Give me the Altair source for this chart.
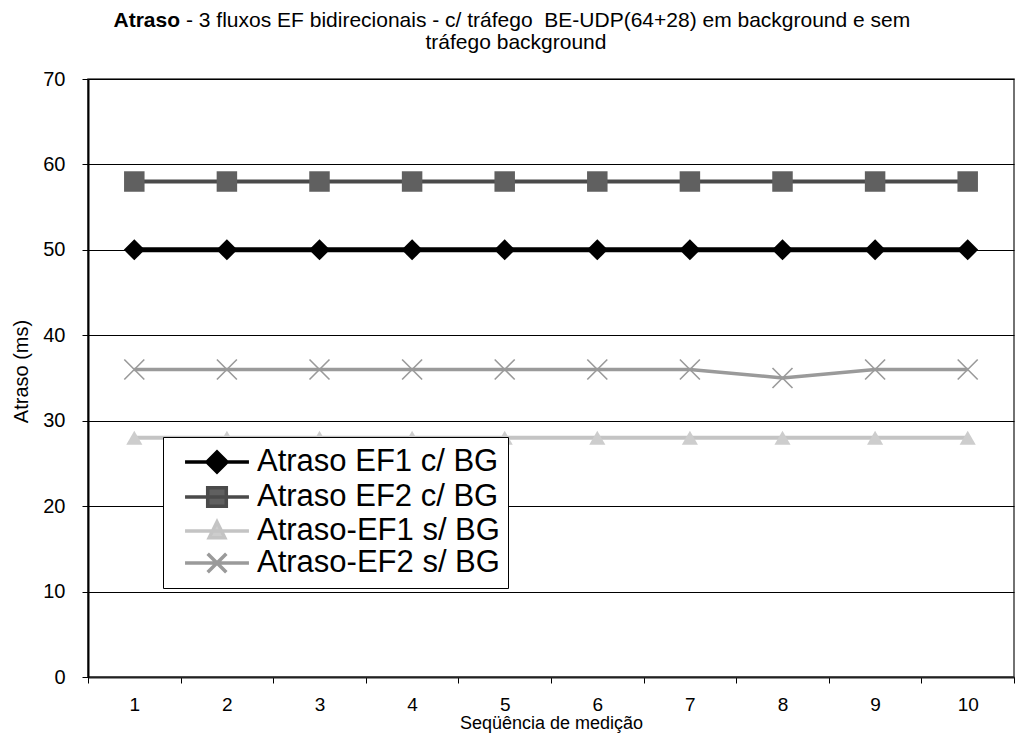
import altair as alt
import pandas as pd

seq = [1, 2, 3, 4, 5, 6, 7, 8, 9, 10]
ef1_cbg = [50, 50, 50, 50, 50, 50, 50, 50, 50, 50]
ef2_cbg = [58, 58, 58, 58, 58, 58, 58, 58, 58, 58]
ef1_sbg = [28, 28, 28, 28, 28, 28, 28, 28, 28, 28]
ef2_sbg = [36, 36, 36, 36, 36, 36, 36, 35, 36, 36]
series = ["Atraso EF1 c/ BG", "Atraso EF2 c/ BG", "Atraso-EF1 s/ BG", "Atraso-EF2 s/ BG"]
values = [ef1_cbg, ef2_cbg, ef1_sbg, ef2_sbg]

title_bold = "Atraso"
title_rest = "- 3 fluxos EF bidirecionais - c/ tráfego\u00a0 BE-UDP(64+28) em background e sem"
title_line2 = "tráfego background"

line_colors = ["#000000", "#4a4a4a", "#c4c4c4", "#9a9a9a"]
fill_colors = ["#000000", "#606060", "#cdcdcd", "#9a9a9a"]
line_widths = [5, 4, 4, 3.5]

rows = []
for s, vals in zip(series, values):
    for q, v in zip(seq, vals):
        rows.append({"seq": q, "atraso": v, "serie": s})
df = pd.DataFrame(rows)

FONT = "Liberation Sans"
W, H = 926, 598

x_enc = alt.X(
    "seq:O",
    scale=alt.Scale(type="band", paddingInner=0, paddingOuter=0),
    axis=alt.Axis(
        title="Seqüência de medição", tickBand="extent", labelAngle=0,
        labelFontSize=19, labelPadding=12, tickSize=6, tickColor="#000",
        domainColor="#222", domainWidth=2, grid=False,
        titleFontSize=18, titleFontWeight="normal", titleBaseline="alphabetic",
        titleY=51, labelColor="#000", titleColor="#000",
    ),
)
y_enc = alt.Y(
    "atraso:Q",
    scale=alt.Scale(domain=[0, 70], nice=False),
    axis=alt.Axis(
        title="Atraso (ms)", values=[0, 10, 20, 30, 40, 50, 60, 70],
        labelFontSize=20, labelPadding=17, tickSize=6, tickColor="#000",
        domainColor="#000", domainWidth=2, grid=True, gridColor="#000",
        gridWidth=1, titleFontSize=20, titleFontWeight="normal",
        titleX=-57, titleY=292, titleAngle=270, titleBaseline="bottom",
        titleAlign="center", labelColor="#000", titleColor="#000",
    ),
)

layers = []
for i, s in enumerate(series):
    base = alt.Chart(df).transform_filter(alt.datum.serie == s)
    layers.append(
        base.mark_line(color=line_colors[i], strokeWidth=line_widths[i]).encode(x=x_enc, y=y_enc)
    )

marker_defs = [
    dict(shape="diamond", filled=True, size=440, color=fill_colors[0], opacity=1),
    dict(shape="square", filled=True, size=420, color=fill_colors[1], opacity=1),
    dict(shape="triangle-up", filled=True, size=260, color=fill_colors[2], opacity=1),
    dict(shape="M-1,-1L1,1M-1,1L1,-1", filled=False, size=400, color=fill_colors[3],
         strokeWidth=1.6, opacity=1),
]
for i, s in enumerate(series):
    base = alt.Chart(df).transform_filter(alt.datum.serie == s)
    layers.append(base.mark_point(**marker_defs[i]).encode(x=x_enc, y=y_enc))

legend_paths = [
    "M-2.13,0H2.13M0,-0.67L0.67,0L0,0.67L-0.67,0Z",
    "M-2.13,0H2.13M-0.62,-0.62H0.62V0.62H-0.62Z",
    "M-2.13,0H2.13M0,-0.6L0.52,0.45H-0.52Z",
    "M-2.13,0H2.13M-0.62,-0.62L0.62,0.62M-0.62,0.62L0.62,-0.62",
]
leg = alt.Legend(
    title=None, orient="none", legendX=75, legendY=358, fillColor="#ffffff",
    strokeColor="#000000", padding=8, labelFontSize=31, labelFont=FONT,
    labelColor="#000", symbolSize=900, symbolStrokeWidth=3.5, symbolOffset=29,
    labelOffset=23, rowPadding=-2, labelLimit=500,
)
legend_layer = alt.Chart(df).mark_point(filled=True, clip=True, size=900, strokeWidth=3.5, opacity=1).encode(
    x=x_enc,
    y=alt.value(-500),
    shape=alt.Shape("serie:N", scale=alt.Scale(domain=series, range=legend_paths), legend=leg),
    fill=alt.Fill("serie:N", scale=alt.Scale(domain=series, range=fill_colors), legend=leg),
    stroke=alt.Stroke("serie:N", scale=alt.Scale(domain=series, range=line_colors), legend=leg),
)
layers.append(legend_layer)

t1 = alt.Chart(pd.DataFrame({"t": [title_bold]})).mark_text(
    font=FONT, fontSize=21, fontWeight="bold", align="right", baseline="alphabetic", color="#000"
).encode(x=alt.value(92), y=alt.value(-52), text="t:N")
t2 = alt.Chart(pd.DataFrame({"t": [title_rest]})).mark_text(
    font=FONT, fontSize=21, align="left", baseline="alphabetic", color="#000"
).encode(x=alt.value(98), y=alt.value(-52), text="t:N")
t3 = alt.Chart(pd.DataFrame({"t": [title_line2]})).mark_text(
    font=FONT, fontSize=21, align="center", baseline="alphabetic", color="#000"
).encode(x=alt.value(428), y=alt.value(-30), text="t:N")
layers += [t1, t2, t3]

chart = alt.layer(*layers).properties(
    width=W, height=H,
    autosize=alt.AutoSizeParams(type="none"),
    padding={"left": 80, "top": 71, "right": 4, "bottom": 57},
).configure(font=FONT).configure_view(stroke="#444", strokeWidth=1.5)

chart.save("out.html", embed_options={"renderer": "svg", "actions": False})
